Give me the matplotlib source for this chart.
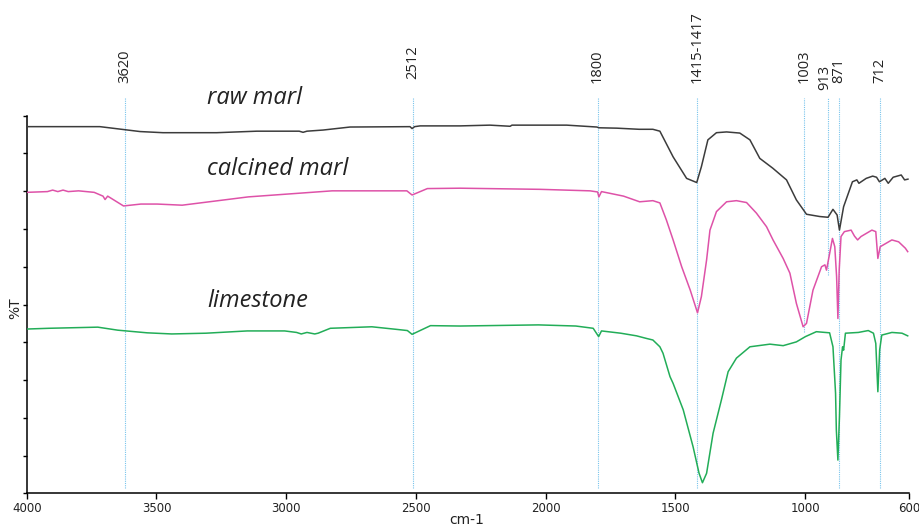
import matplotlib
matplotlib.use("Agg")
import matplotlib.pyplot as plt
from matplotlib.transforms import offset_copy

# ---- spectra (wavenumber in cm-1, transmittance in %T, offset per sample) ----
raw_wn = [4000, 3718, 3563, 3475, 3268, 3113, 2950, 2935, 2920, 2858, 2754, 2523,
          2515, 2505, 2484, 2330, 2215, 2137, 2130, 1919, 1803, 1795, 1726, 1640,
          1587, 1560, 1509, 1457, 1418, 1400, 1375, 1342, 1303, 1252, 1213, 1175,
          1125, 1072, 1034, 995, 944, 912, 893, 877, 868, 852, 818, 801, 793, 765,
          740, 725, 714, 693, 680, 661, 630, 617, 604]
raw_t = [97.1, 97.1, 95.8, 95.5, 95.5, 95.9, 95.9, 95.6, 95.9, 96.2, 97.0, 97.1,
         96.6, 97.1, 97.3, 97.3, 97.5, 97.2, 97.5, 97.5, 97.0, 96.8, 96.7, 96.4,
         96.4, 95.9, 89.1, 83.4, 82.3, 86.5, 93.6, 95.5, 95.7, 95.4, 93.6, 88.7,
         86.1, 83.0, 77.7, 73.9, 73.3, 73.1, 75.2, 73.7, 69.7, 75.9, 82.5, 83.0,
         82.1, 83.4, 84.0, 83.7, 82.5, 83.4, 82.1, 83.7, 84.3, 83.0, 83.2]

calc_wn = [4000, 3920, 3900, 3880, 3860, 3840, 3800, 3740, 3706, 3698, 3688, 3627,
           3560, 3497, 3401, 3146, 2823, 2535, 2515, 2456, 2330, 2022, 1829, 1800,
           1795, 1785, 1700, 1638, 1587, 1560, 1535, 1509, 1476, 1443, 1415, 1400,
           1380, 1367, 1342, 1303, 1265, 1226, 1188, 1149, 1124, 1085, 1059, 1034,
           1008, 995, 970, 937, 924, 918, 908, 895, 886, 879, 874, 869, 862, 849,
           823, 810, 798, 785, 743, 728, 720, 711, 666, 640, 614, 605]
calc_t = [79.7, 79.9, 80.3, 79.9, 80.3, 79.9, 80.1, 79.7, 78.7, 77.8, 78.7, 76.1,
          76.6, 76.6, 76.3, 78.5, 80.1, 80.1, 79.0, 80.7, 80.8, 80.5, 80.1, 79.8,
          78.5, 79.9, 78.7, 77.2, 77.5, 76.9, 72.4, 67.1, 60.0, 53.8, 47.8, 52.1,
          61.8, 69.7, 74.6, 77.2, 77.5, 77.0, 74.2, 70.6, 67.1, 62.2, 58.3, 50.3,
          44.1, 45.0, 53.8, 60.0, 60.5, 59.1, 62.7, 67.5, 65.3, 57.4, 46.3, 59.1,
          68.0, 69.3, 69.7, 68.1, 67.1, 68.0, 69.7, 69.3, 62.2, 65.3, 67.1, 66.6,
          64.9, 64.0]

lime_wn = [4000, 3915, 3726, 3649, 3536, 3441, 3309, 3150, 3006, 2960, 2942, 2920,
           2890, 2877, 2830, 2670, 2573, 2533, 2515, 2444, 2330, 2028, 1884, 1817,
           1796, 1785, 1711, 1650, 1611, 1587, 1560, 1548, 1521, 1509, 1470, 1432,
           1409, 1396, 1380, 1355, 1323, 1297, 1265, 1213, 1136, 1085, 1034, 999,
           957, 906, 893, 883, 880, 874, 868, 862, 856, 852, 845, 795, 757, 737,
           728, 720, 713, 705, 666, 627, 605]
lime_t = [43.5, 43.7, 44.0, 43.2, 42.5, 42.2, 42.4, 43.0, 43.0, 42.6, 42.2, 42.6,
          42.2, 42.4, 43.7, 44.1, 43.4, 43.1, 42.1, 44.4, 44.3, 44.6, 44.3, 43.7,
          41.5, 43.0, 42.4, 41.7, 41.0, 40.6, 38.8, 37.1, 30.9, 29.1, 22.1, 12.3,
          5.3, 2.8, 5.3, 15.9, 24.7, 32.2, 35.8, 38.8, 39.5, 39.1, 40.1, 41.5,
          42.8, 42.5, 38.8, 26.5, 16.8, 8.8, 20.3, 35.3, 38.8, 37.9, 42.4, 42.6,
          43.1, 42.4, 39.7, 26.9, 38.0, 41.9, 42.6, 42.4, 41.7]

series_names = ["raw marl", "calcined marl", "limestone"]
series_colors = ["#3c3c3c", "#de52a8", "#22ad58"]

# ---- marked absorption bands ----
peak_wn = [3620, 2512, 1800, 1416, 1003, 913, 871, 712]
peak_labels = ["3620", "2512", "1800", "1415-1417", "1003", "913", "871", "712"]

x_ticks = [4000, 3500, 3000, 2500, 2000, 1500, 1000, 600]

# ---- layout (pixels of the 919x526 canvas) ----
W, H = 919, 526
left_px, right_px = 26.7, 909.0
base_px = 493.3
px_per_unit = 3.776
y_top = 105.0

fig = plt.figure(figsize=(W / 100, H / 100), dpi=100)
ax = fig.add_axes([left_px / W, (H - base_px) / H,
                   (right_px - left_px) / W, y_top * px_per_unit / H])
ax.set_xlim(4000, 600)
ax.set_ylim(0, y_top)

# band markers: thin dotted light-blue rules, some stop at the middle trace
line_bottom = {1003: 42.7, 913: 57.8}
label_base = {2512: 109.8, 913: 106.8}
for wn, lab in zip(peak_wn, peak_labels):
    ax.plot([wn, wn], [line_bottom.get(wn, 1.5), 104.6], color="#78c4ec",
            lw=0.8, ls=(0, (1, 1)), zorder=1, clip_on=False)
    tr = ax.transData
    if wn == 913:
        tr = offset_copy(ax.transData, fig=fig, x=-3, y=0, units="dots")
    ax.text(wn, label_base.get(wn, 108.7), lab, rotation=90, ha="center",
            va="bottom", fontsize=10.5, family="Open Sans", color="#222222",
            transform=tr, clip_on=False)

# spectra
for wn, t, c in zip([raw_wn, calc_wn, lime_wn], [raw_t, calc_t, lime_t], series_colors):
    ax.plot(wn, t, color=c, lw=1.1, zorder=3, solid_joinstyle="round")

# sample names
name_y = [103.1, 84.3, 49.4]
for name, yv in zip(series_names, name_y):
    ax.text(3305, yv, name, fontsize=17, family="Open Sans", style="italic",
            color="#222222", ha="left", va="baseline")

# axes styling
for s in ("top", "right"):
    ax.spines[s].set_visible(False)
ax.spines["left"].set_bounds(0, 100)
ax.spines["left"].set_linewidth(1.1)
ax.spines["bottom"].set_linewidth(1.1)
ax.set_yticks(range(0, 101, 10))
ax.tick_params(axis="y", direction="out", length=3, width=1, labelleft=False)
ax.set_xticks(x_ticks)
ax.set_xticklabels([str(v) for v in x_ticks])
ax.tick_params(axis="x", direction="out", length=4, width=1, pad=2,
               labelsize=8.5, labelcolor="#222222")

fig.text(467 / W, 1 - 520 / H, "cm-1", ha="center", va="center", fontsize=10,
         color="#222222")
fig.text(15 / W, 1 - 308 / H, "%T", ha="center", va="center", rotation=90,
         fontsize=10, color="#222222")

fig.savefig("out.png", dpi=100)
